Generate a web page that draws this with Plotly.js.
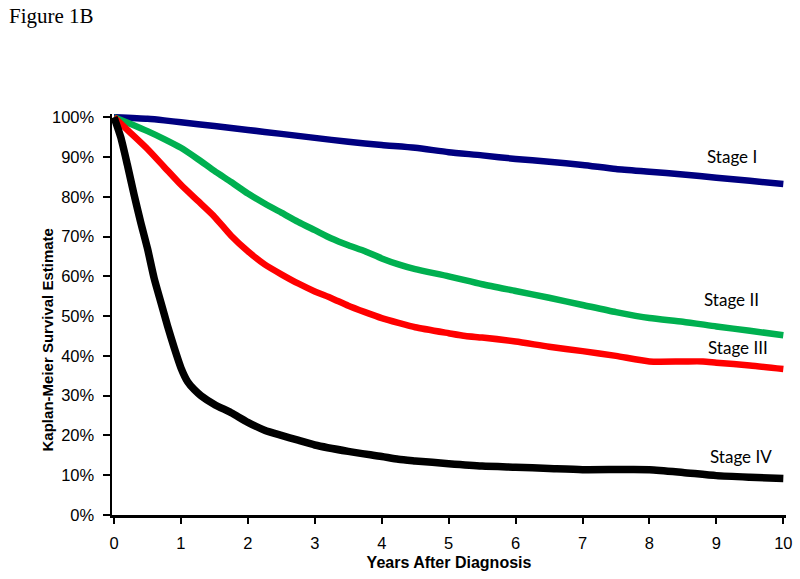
<!DOCTYPE html>
<html>
<head>
<meta charset="utf-8">
<script src="https://cdn.plot.ly/plotly-3.0.1.min.js"></script>
<style>
  html, body { margin: 0; padding: 0; background: #fff; }
  #chart { width: 800px; height: 579px; }
</style>
</head>
<body>
<div id="chart"></div>
<script>
// Years after diagnosis and Kaplan-Meier survival (%) per stage
var stageNames = ["Stage I", "Stage II", "Stage III", "Stage IV"];
var stageColors = ["#000080", "#00B050", "#FF0000", "#000000"];

var stage1Years = [0,0.5,0.75,1,1.5,2,2.5,3,3.5,4,4.5,5,5.5,6,6.5,7,7.5,8,8.5,9,9.5,10];
var stage1Surv  = [100,99.6,99.2,98.7,97.8,96.8,95.8,94.8,93.8,93,92.3,91.2,90.4,89.5,88.8,88,87,86.3,85.6,84.8,84,83.2];

var stage2Years = [0,0.25,0.5,0.75,1,1.25,1.5,1.75,2,2.25,2.5,2.75,3,3.25,3.5,3.75,4,4.25,4.5,5,5.5,6,6.5,7,7.5,8,8.5,9,9.5,10];
var stage2Surv  = [100,98.3,96.5,94.5,92.3,89.5,86.5,83.7,80.8,78.3,76,73.7,71.6,69.5,67.8,66.3,64.5,63,61.8,60,58,56.3,54.6,52.8,51,49.5,48.6,47.4,46.3,45.2];

var stage3Years = [0,0.25,0.5,0.75,1,1.25,1.5,1.75,2,2.25,2.5,2.75,3,3.25,3.5,3.75,4,4.25,4.5,5,5.25,5.5,6,6.5,7,7.5,8,8.5,8.8,9,9.5,10];
var stage3Surv  = [100,96,92,87.5,83,79,75,70.2,66.3,63,60.5,58.2,56.2,54.5,52.6,51,49.5,48.3,47.2,45.7,45,44.6,43.6,42.3,41.2,40,38.6,38.6,38.6,38.3,37.6,36.7];

var stage4Years = [0,0.1,0.2,0.3,0.4,0.5,0.6,0.7,0.8,0.9,1,1.1,1.2,1.3,1.5,1.75,2,2.25,2.5,2.75,3,3.5,4,4.25,4.5,5,5.5,6,6.5,7,8,8.5,9,9.5,10];
var stage4Surv  = [100,95,88,80.5,73.5,67,59.5,53.5,47.5,42,37,33.5,31.5,30,27.8,25.7,23.3,21.3,20,18.8,17.6,16,14.7,14,13.6,12.9,12.3,12,11.7,11.4,11.4,10.7,9.9,9.5,9.2];

var xTickVals = [0,1,2,3,4,5,6,7,8,9,10];
var yTickVals = [0,10,20,30,40,50,60,70,80,90,100];

// Stage label positions (data units)
var labelX = [9.24, 9.23, 9.32, 9.37];
var labelY = [90.0, 54.1, 42.0, 14.65];

var seriesYears = [stage1Years, stage2Years, stage3Years, stage4Years];
var seriesSurv = [stage1Surv, stage2Surv, stage3Surv, stage4Surv];
var lineWidths = [6.5, 6.5, 6.5, 7.5];

var traces = seriesYears.map(function (xs, i) {
  return {
    x: xs, y: seriesSurv[i], type: "scatter", mode: "lines",
    name: stageNames[i],
    line: { color: stageColors[i], width: lineWidths[i], shape: "spline", smoothing: 0.6 },
    hoverinfo: "skip"
  };
});

var annotations = stageNames.map(function (t, i) {
  return {
    text: t, x: labelX[i], y: labelY[i], xref: "x", yref: "y",
    showarrow: false, xanchor: "center", yanchor: "middle",
    font: { family: "Lato, 'Open Sans', sans-serif", size: 17, color: "#000" }
  };
});

annotations.push({
  text: "Figure 1B", xref: "paper", yref: "paper", x: -0.1563, y: 1.2445,
  xanchor: "left", yanchor: "middle", showarrow: false,
  font: { family: "'Liberation Serif', 'Times New Roman', serif", size: 21, color: "#000" }
});
annotations.push({
  text: "<b>Kaplan-Meier Survival Estimate</b>", xref: "paper", yref: "paper",
  x: -0.0954, y: 0.437, xanchor: "center", yanchor: "middle", textangle: -90,
  showarrow: false,
  font: { family: "'Liberation Sans', Arial, sans-serif", size: 15, color: "#000" }
});

var layout = {
  width: 800, height: 579,
  margin: { l: 112.3, r: 14, t: 114.1, b: 63.7, pad: 0 },
  paper_bgcolor: "#fff", plot_bgcolor: "#fff",
  showlegend: false,
  font: { family: "'Liberation Sans', Arial, sans-serif", color: "#000" },
  xaxis: {
    range: [-0.03, 10.04], tickvals: xTickVals, ticktext: xTickVals.map(String),
    showgrid: false, zeroline: false, showline: true, linecolor: "#000", linewidth: 2.5,
    ticks: "outside", ticklen: 6, tickwidth: 2, tickcolor: "#000",
    tickfont: { size: 16.5, color: "#000" }, ticklabelstandoff: 6,
    title: { text: "<b>Years After Diagnosis</b>", font: { size: 16, color: "#000" }, standoff: 6 }
  },
  yaxis: {
    range: [0, 100.8], tickvals: yTickVals, ticktext: yTickVals.map(function (v) { return v + "%"; }),
    showgrid: false, zeroline: false, showline: true, linecolor: "#000", linewidth: 2.5,
    ticks: "outside", ticklen: 7, tickwidth: 2, tickcolor: "#000",
    tickfont: { size: 16.5, color: "#000" }, ticklabelstandoff: 5
  },
  annotations: annotations
};

Plotly.newPlot("chart", traces, layout, { staticPlot: true, displayModeBar: false });
</script>
</body>
</html>
